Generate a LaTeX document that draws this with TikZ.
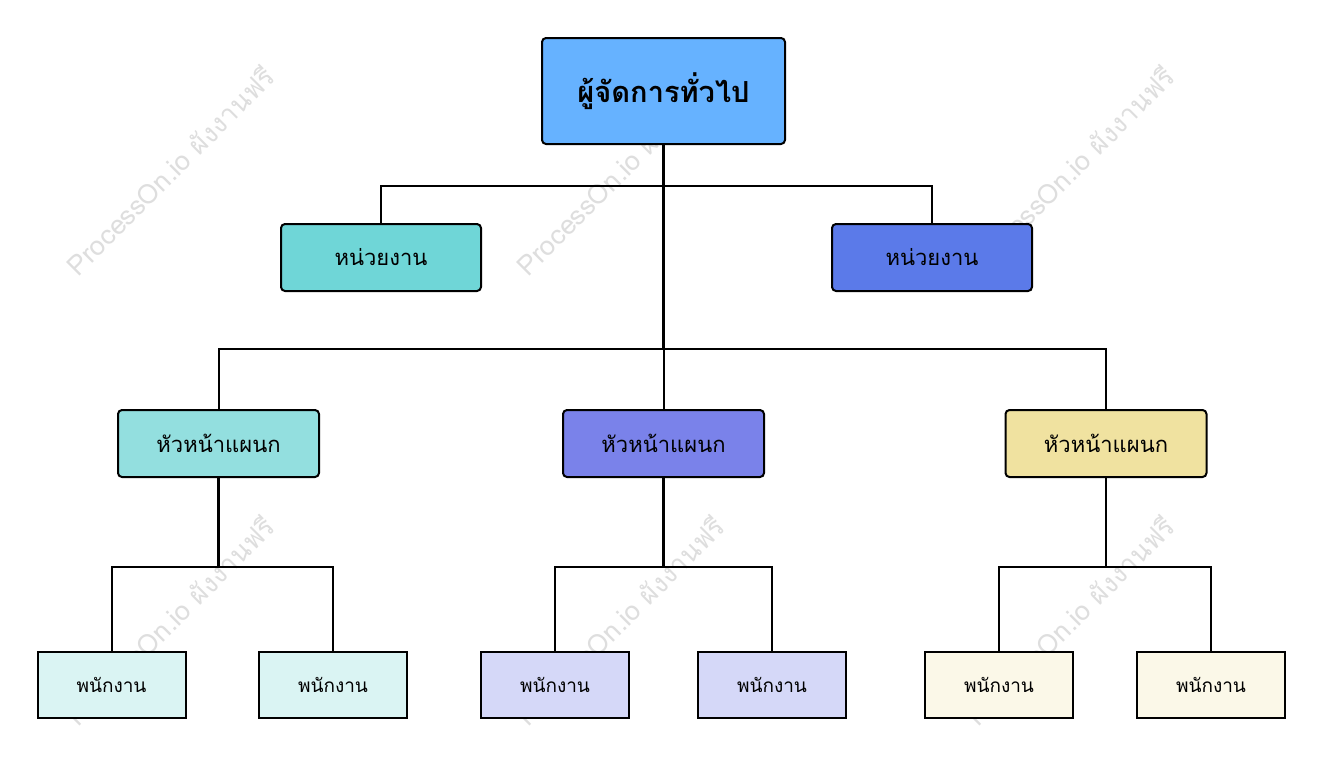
\documentclass[tikz,border=0pt]{standalone}
\usepackage{fontspec}
\newfontfamily\thai[Script=Thai]{Loma}
\definecolor{cTop}{HTML}{66B2FF}
\definecolor{cU1}{HTML}{6FD6D7}
\definecolor{cU2}{HTML}{5B7AE9}
\definecolor{cH1}{HTML}{93DFDF}
\definecolor{cH2}{HTML}{7A82EA}
\definecolor{cH3}{HTML}{F0E2A0}
\definecolor{cE1}{HTML}{DAF4F3}
\definecolor{cE2}{HTML}{D5D8F8}
\definecolor{cE3}{HTML}{FBF8E8}
\definecolor{cWm}{HTML}{DEDEDE}
\tikzset{
  x=1pt, y=-1pt,
  box/.style={draw=black, line width=2pt, inner sep=0pt, text=black},
  topbox/.style={box, rounded corners=4pt, minimum width=243pt, minimum height=106pt, font=\thai\bfseries\fontsize{29}{34}\selectfont},
  unitbox/.style={box, rounded corners=4pt, minimum width=200pt, minimum height=67pt, font=\thai\fontsize{22}{26}\selectfont},
  headbox/.style={box, rounded corners=4pt, minimum width=201pt, minimum height=67pt, font=\thai\fontsize{22}{26}\selectfont},
  empbox/.style={box, minimum width=148pt, minimum height=66pt, font=\thai\fontsize{19}{23}\selectfont},
  link/.style={draw=black, line width=2pt},
  trunk/.style={draw=black, line width=2.8pt},
  wm/.style={text=cWm, rotate=45, font=\thai\fontsize{27}{31}\selectfont, inner sep=0pt}
}
\begin{document}
\begin{tikzpicture}
\useasboundingbox (0,0) rectangle (1322,756);
\fill[white] (0,0) rectangle (1322,756);
% watermarks
\foreach \wx/\wy [count=\i] in {170/170, 620/170, 1070/170, 170/620, 620/620, 1070/620}
  \node[wm] (wm\i) at (\wx,\wy) {ProcessOn.io ผังงานฟรี};
% nodes
\node[topbox, fill=cTop] (top) at (663.5,91) {ผู้จัดการทั่วไป};
\node[unitbox, fill=cU1] (u1) at (381,257.5) {หน่วยงาน};
\node[unitbox, fill=cU2] (u2) at (932,257.5) {หน่วยงาน};
\node[headbox, fill=cH1] (h1) at (218.5,443.5) {หัวหน้าแผนก};
\node[headbox, fill=cH2] (h2) at (663.5,443.5) {หัวหน้าแผนก};
\node[headbox, fill=cH3] (h3) at (1106,443.5) {หัวหน้าแผนก};
\node[empbox, fill=cE1] (e1) at (111.5,685) {พนักงาน};
\node[empbox, fill=cE1] (e2) at (333,685) {พนักงาน};
\node[empbox, fill=cE2] (e3) at (555,685) {พนักงาน};
\node[empbox, fill=cE2] (e4) at (772,685) {พนักงาน};
\node[empbox, fill=cE3] (e5) at (999,685) {พนักงาน};
\node[empbox, fill=cE3] (e6) at (1211,685) {พนักงาน};
% junctions
\coordinate (j1) at (663.5,186);
\coordinate (j2) at (663.5,349);
\coordinate (j3) at (218.5,567);
\coordinate (j4) at (663.5,567);
\coordinate (j5) at (1106,567);
% connectors
\draw[link] (u1.north) |- (j1) -| (u2.north);
\draw[link] (h1.north) |- (j2) -| (h3.north);
\draw[link] (e1.north) |- (j3) -| (e2.north);
\draw[link] (e3.north) |- (j4) -| (e4.north);
\draw[link] (e5.north) |- (j5) -| (e6.north);
\draw[trunk] (top.south) -- (j2);
\draw[link] (j2) -- (h2.north);
\draw[trunk] (h1.south) -- (j3);
\draw[trunk] (h2.south) -- (j4);
\draw[trunk] (h3.south) -- (j5);
\end{tikzpicture}
\end{document}
